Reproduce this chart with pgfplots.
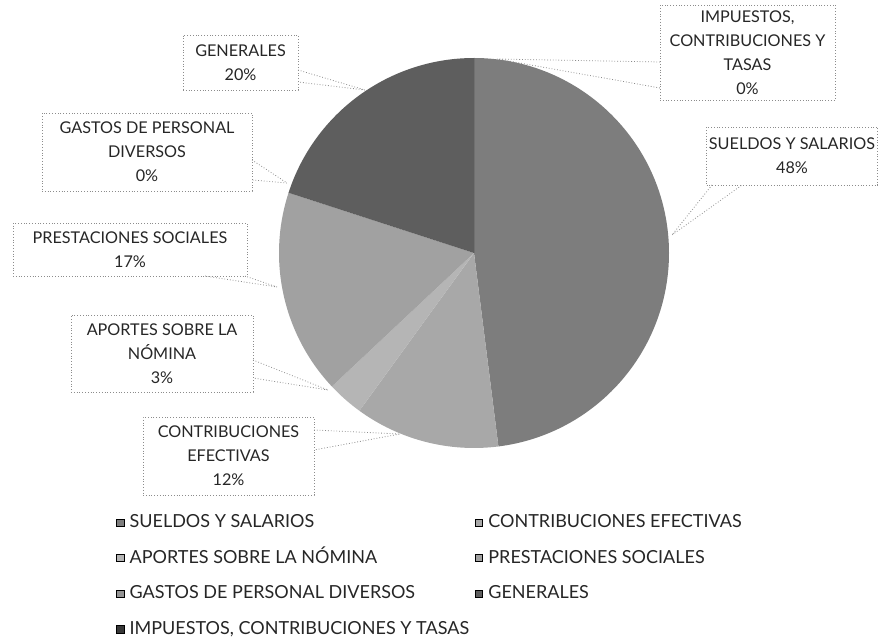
\documentclass[border=0pt]{standalone}
\usepackage{fontspec}
\setmainfont{Lato}
\usepackage{pgfplots}
\usepackage{pgfplotstable}
\pgfplotsset{compat=1.18}

\definecolor{c0}{gray}{0.49}
\definecolor{c1}{gray}{0.66}
\definecolor{c2}{gray}{0.71}
\definecolor{c3}{gray}{0.63}
\definecolor{c4}{gray}{0.58}
\definecolor{c5}{gray}{0.37}
\definecolor{c6}{gray}{0.22}
\colorlet{txt}{black!85}

% porcentaje de cada partida, en el orden en que se dibujan (desde arriba, en sentido horario)
\pgfplotstableread{
pct
48
12
3
17
0
20
0
}\piedata

\tikzset{
  lbl/.style={draw=black!45, densely dotted, align=center, inner sep=1pt,
              font=\fontsize{8.1}{12}\selectfont, text=txt},
  ptr/.style={draw=black!45, densely dotted},
}

\begin{document}
\begin{tikzpicture}
\begin{axis}[
  scale only axis, width=440pt, height=319pt,
  xmin=0, xmax=880, ymin=0, ymax=638,
  hide axis, clip=false,
  legend columns=2,
  legend image code/.code={\fill[#1] (0pt,-1.8pt) rectangle (3.6pt,1.8pt); \path (5.2pt,0pt);},
  legend style={at={(axis cs:116,127)}, anchor=north west, draw=none, fill=none,
                font=\fontsize{9}{12}\selectfont, text=txt,
                row sep=6.6pt, inner sep=0pt,
                nodes={inner sep=1pt, text height=7.2pt, text depth=2pt}},
  legend cell align=left,
]
% porciones del pastel
\def\angA{90}
\pgfplotsforeachungrouped \i in {0,...,6}{
  \pgfplotstablegetelem{\i}{pct}\of\piedata
  \pgfmathsetmacro\angB{\angA-3.6*\pgfplotsretval}
  \edef\temp{\noexpand\fill[c\i] (axis cs:474,385) -- ++(\angA:97.5pt)
    arc[start angle=\angA, end angle=\angB, radius=97.5pt] -- cycle;}
  \temp
  \global\let\angA\angB
}

\addlegendimage{fill=c0}\addlegendentry{\makebox[171.8pt][l]{SUELDOS Y SALARIOS}}
\addlegendimage{fill=c1}\addlegendentry{CONTRIBUCIONES EFECTIVAS}
\addlegendimage{fill=c2}\addlegendentry{\makebox[171.8pt][l]{APORTES SOBRE LA NÓMINA}}
\addlegendimage{fill=c3}\addlegendentry{PRESTACIONES SOCIALES}
\addlegendimage{fill=c4}\addlegendentry{\makebox[171.8pt][l]{GASTOS DE PERSONAL DIVERSOS}}
\addlegendimage{fill=c5}\addlegendentry{GENERALES}
\addlegendimage{fill=c6}\addlegendentry{\makebox[171.8pt][l]{IMPUESTOS, CONTRIBUCIONES Y TASAS}}

% etiquetas de datos con su flecha
\draw[ptr] (axis cs:298,568) -- (axis cs:365,548) -- (axis cs:298,556);
\node[lbl, minimum width=57.5pt, minimum height=27.5pt] at (axis cs:240.5,575.5)
  {GENERALES\\20\%};

\draw[ptr] (axis cs:660,576) -- (axis cs:497,579) -- (axis cs:660,550);
\node[lbl, minimum width=87.5pt, minimum height=47.5pt] at (axis cs:747.5,585.5)
  {IMPUESTOS,\\CONTRIBUCIONES Y\\TASAS\\0\%};

\draw[ptr] (axis cs:712,453) -- (axis cs:672,403) -- (axis cs:742,453);
\node[lbl, minimum width=85.5pt, minimum height=29pt] at (axis cs:792,482)
  {SUELDOS Y SALARIOS\\48\%};

\draw[ptr] (axis cs:252,478) -- (axis cs:287,455) -- (axis cs:252,458);
\node[lbl, minimum width=105pt, minimum height=39pt] at (axis cs:147,486)
  {GASTOS DE PERSONAL\\DIVERSOS\\0\%};

\draw[ptr] (axis cs:205,362) -- (axis cs:277,351) -- (axis cs:245,362);
\node[lbl, minimum width=117pt, minimum height=26.5pt] at (axis cs:130,388.5)
  {PRESTACIONES SOCIALES\\17\%};

\draw[ptr] (axis cs:253,278) -- (axis cs:328,248) -- (axis cs:253,260);
\node[lbl, minimum width=91pt, minimum height=38.5pt] at (axis cs:162,284.5)
  {APORTES SOBRE LA\\NÓMINA\\3\%};

\draw[ptr] (axis cs:314,208) -- (axis cs:400,204) -- (axis cs:314,188);
\node[lbl, minimum width=85.5pt, minimum height=39pt] at (axis cs:228.5,182)
  {CONTRIBUCIONES\\EFECTIVAS\\12\%};
\end{axis}
\pgfresetboundingbox
\path (current axis.south west) rectangle (current axis.north east);
\end{tikzpicture}
\end{document}
